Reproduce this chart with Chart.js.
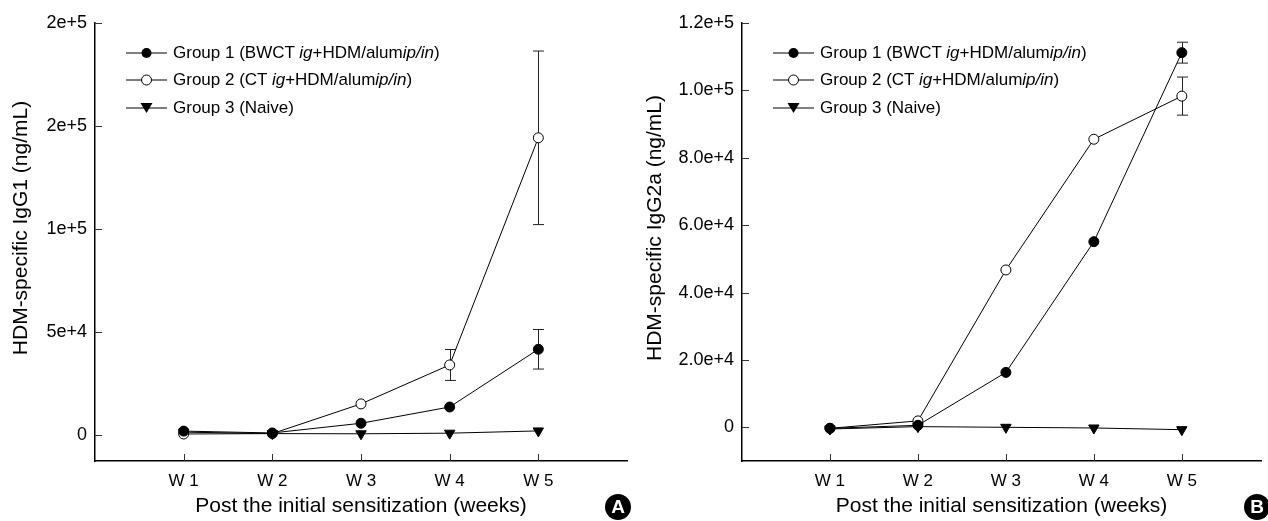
<!DOCTYPE html>
<html>
<head>
<meta charset="utf-8">
<script src="https://cdn.jsdelivr.net/npm/chart.js@4.4.1/dist/chart.umd.min.js"></script>
<style>
body { margin:0; background:#fff; width:1268px; height:521px; overflow:hidden; position:relative;
       font-family:'Liberation Sans', Arial, sans-serif; color:#000 }
canvas { position:absolute; top:0 }
.leg { position:absolute; font-size:17px; white-space:nowrap; height:20px; line-height:20px }
.leg svg { position:absolute; left:0; top:3px }
.leg span { position:absolute; left:47px; top:0 }
.tag { position:absolute; width:26px; height:26px; border-radius:50%; background:#000; color:#fff;
       font-weight:bold; font-size:19px; line-height:26px; text-align:center }
</style>
</head>
<body>
<canvas id="chartA" width="634" height="521" style="left:0"></canvas>
<canvas id="chartB" width="634" height="521" style="left:634px"></canvas>
<div id="legA"></div>
<div id="legB"></div>
<div class="tag" style="left:605px;top:494px">A</div>
<div class="tag" style="left:1244px;top:494px">B</div>
<script>
// weeks after first sensitization
var weeks = ['W 1', 'W 2', 'W 3', 'W 4', 'W 5']
var groupNames = [
    'Group 1 (BWCT <i>ig</i>+HDM/alum<i>ip/in</i>)',
    'Group 2 (CT <i>ig</i>+HDM/alum<i>ip/in</i>)',
    'Group 3 (Naive)'
]

// panel A : IgG1
var igg1G1 = [2000, 1100, 5800, 13700, 41700]
var igg1G2 = [600, 800, 15200, 34100, 144300]
var igg1G3 = [1500, 800, 700, 1000, 2100]
var igg1G1Err = [0, 0, 0, 0, 9600]
var igg1G2Err = [0, 0, 0, 7500, 42100]
var yTicksA = [0, 50000, 100000, 150000, 200000]
var yLabelsA = ['0', '5e+4', '1e+5', '2e+5', '2e+5']

// panel B : IgG2a
var igg2aG1 = [-300, 600, 16300, 55100, 111200]
var igg2aG2 = [-300, 1900, 46700, 85500, 98300]
var igg2aG3 = [-500, 200, 0, -200, -700]
var igg2aG1Err = [0, 0, 0, 0, 3100]
var igg2aG2Err = [0, 0, 0, 0, 5650]
var yTicksB = [0, 20000, 40000, 60000, 80000, 100000, 120000]
var yLabelsB = ['0', '2.0e+4', '4.0e+4', '6.0e+4', '8.0e+4', '1.0e+5', '1.2e+5']

var FONT = "'Liberation Sans', Arial, sans-serif"
Chart.defaults.font.family = FONT
Chart.defaults.color = '#000'

function pts(vals) {
    return vals.map(function (v, i) { return { x: i + 1, y: v } })
}

// error bars under the markers, inward tick marks, y title
var deco = {
    id: 'deco',
    beforeDatasetsDraw: function (chart) {
        var ctx = chart.ctx, xs = chart.scales.x, ys = chart.scales.y, ca = chart.chartArea
        ctx.save()
        ctx.strokeStyle = '#222'
        ctx.lineWidth = 1
        chart.data.datasets.forEach(function (ds) {
            if (!ds.err) return
            ds.data.forEach(function (p, i) {
                var e = ds.err[i]
                if (!e) return
                var x = Math.round(xs.getPixelForValue(p.x)) + 0.5
                var t = ys.getPixelForValue(p.y + e), b = ys.getPixelForValue(p.y - e)
                ctx.beginPath()
                ctx.moveTo(x, t); ctx.lineTo(x, b)
                ctx.moveTo(x - 5.5, t); ctx.lineTo(x + 5.5, t)
                ctx.moveTo(x - 5.5, b); ctx.lineTo(x + 5.5, b)
                ctx.stroke()
            })
        })
        ctx.strokeStyle = '#333'
        ctx.beginPath()
        xs.ticks.forEach(function (tk) {
            var x = Math.round(xs.getPixelForValue(tk.value)) + 0.5
            ctx.moveTo(x, ca.bottom); ctx.lineTo(x, ca.bottom - 7)
        })
        ys.ticks.forEach(function (tk) {
            var y = Math.round(ys.getPixelForValue(tk.value)) + 0.5
            ctx.moveTo(ca.left, y); ctx.lineTo(ca.left + 7, y)
        })
        ctx.stroke()
        ctx.restore()
    },
    afterDraw: function (chart, args, opts) {
        var ctx = chart.ctx
        ctx.save()
        ctx.translate(opts.x, opts.y)
        ctx.rotate(-Math.PI / 2)
        ctx.font = '21px ' + FONT
        ctx.fillStyle = '#000'
        ctx.textAlign = 'center'
        ctx.textBaseline = 'middle'
        ctx.fillText(opts.text, 0, 0)
        ctx.restore()
    }
}

function makePanel(id, series, errs, yTicks, yLabels, yMin, yTitle, yWidth, xMax, padRight) {
    var styles = [
        { pointStyle: 'circle', pointRadius: 5, pointBackgroundColor: '#000', pointRotation: 0 },
        { pointStyle: 'circle', pointRadius: 5, pointBackgroundColor: '#fff', pointRotation: 0 },
        { pointStyle: 'triangle', pointRadius: 6, pointBackgroundColor: '#000', pointRotation: 180 }
    ]
    var datasets = series.map(function (s, k) {
        return {
            label: 'Group ' + (k + 1),
            data: pts(s),
            err: errs[k],
            borderColor: '#000',
            borderWidth: 1,
            pointBorderColor: '#000',
            pointBorderWidth: 1,
            pointStyle: styles[k].pointStyle,
            pointRadius: styles[k].pointRadius,
            pointRotation: styles[k].pointRotation,
            pointBackgroundColor: styles[k].pointBackgroundColor,
            fill: false,
            tension: 0
        }
    })
    return new Chart(document.getElementById(id), {
        type: 'line',
        data: { datasets: datasets },
        plugins: [deco],
        options: {
            responsive: false,
            animation: false,
            layout: { padding: { top: 23, right: padRight, left: 0, bottom: 0 } },
            plugins: {
                legend: { display: false },
                tooltip: { enabled: false },
                deco: { text: yTitle, x: 21.5, y: 228 }
            },
            scales: {
                x: {
                    type: 'linear', min: 0, max: xMax,
                    afterBuildTicks: function (s) { s.ticks = weeks.map(function (w, i) { return { value: i + 1 } }) },
                    afterFit: function (s) { s.height = 60 },
                    ticks: { font: { size: 17 }, padding: 10, callback: function (v) { return weeks[v - 1] } },
                    grid: { display: true, drawOnChartArea: false, drawTicks: false },
                    border: { display: true, color: '#000', width: 1.5 },
                    title: { display: true, text: 'Post the initial sensitization (weeks)', font: { size: 21 },
                             padding: { top: 0, bottom: 2 } }
                },
                y: {
                    type: 'linear', min: yMin, max: yTicks[yTicks.length - 1],
                    afterBuildTicks: function (s) { s.ticks = yTicks.map(function (v) { return { value: v } }) },
                    afterFit: function (s) { s.width = yWidth },
                    ticks: { font: { size: 18 }, padding: 8,
                             callback: function (v) { return yLabels[yTicks.indexOf(v)] } },
                    grid: { display: true, drawOnChartArea: false, drawTicks: false },
                    border: { display: true, color: '#000', width: 1.5 },
                    title: { display: false }
                }
            }
        }
    })
}

makePanel('chartA', [igg1G1, igg1G2, igg1G3], [igg1G1Err, igg1G2Err, null],
    yTicksA, yLabelsA, -12500, 'HDM-specific IgG1 (ng/mL)', 95, 6, 7)
makePanel('chartB', [igg2aG1, igg2aG2, igg2aG3], [igg2aG1Err, igg2aG2Err, null],
    yTicksB, yLabelsB, -10000, 'HDM-specific IgG2a (ng/mL)', 108, 5.9, 0)

// legends (html so the italics stay)
function symbol(k) {
    var s = '<svg width="41" height="14"><line x1="0" y1="7" x2="41" y2="7" stroke="#000" stroke-width="1"/>'
    if (k == 0) s += '<circle cx="20.5" cy="7" r="5" fill="#000"/>'
    if (k == 1) s += '<circle cx="20.5" cy="7" r="5" fill="#fff" stroke="#000"/>'
    if (k == 2) s += '<polygon points="14.5,2 26.5,2 20.5,12" fill="#000"/>'
    return s + '</svg>'
}
function legend(id, left) {
    var rows = [53, 80, 108]
    var html = ''
    groupNames.forEach(function (g, k) {
        html += '<div class="leg" style="left:' + left + 'px;top:' + (rows[k] - 10) + 'px">' +
            symbol(k) + '<span>' + g + '</span></div>'
    })
    document.getElementById(id).innerHTML = html
}
legend('legA', 126)
legend('legB', 773)
</script>
</body>
</html>
